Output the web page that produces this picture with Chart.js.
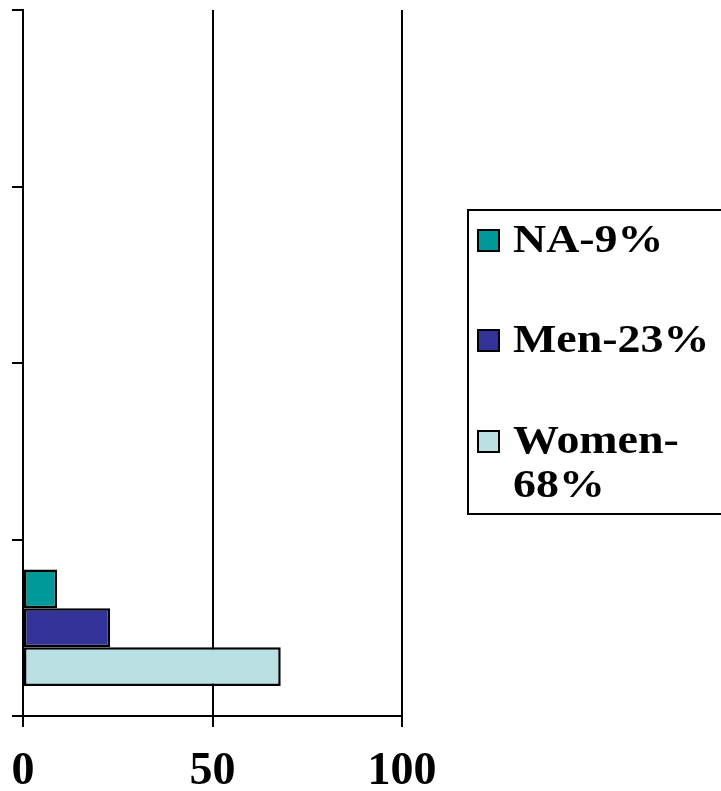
<!DOCTYPE html>
<html>
<head>
<meta charset="utf-8">
<script src="https://cdn.jsdelivr.net/npm/chart.js@4.4.1/dist/chart.umd.min.js"></script>
<style>
  html, body { margin: 0; padding: 0; background: #fff; }
  #wrap { width: 721px; height: 791px; }
</style>
</head>
<body>
<div id="wrap"><canvas id="grafico" width="721" height="791"></canvas></div>
<script>
// dados do gráfico
const categorias = ['1', '2', '3', '4'];
const rotulos = ['NA-9%', 'Men-23%', 'Women-68%'];
const valoresNA = [9, null, null, null];
const valoresMen = [23, null, null, null];
const valoresWomen = [68, null, null, null];
const ticksX = [0, 50, 100];
const cores = ['#009999', '#333399', '#BBE0E3'];

const FONTE = '"Liberation Serif"';

// legenda desenhada à mão (com moldura e quebra de linha como no original)
const legendaCaixa = {
    id: 'legendaCaixa',
    afterDraw(chart) {
        const ctx = chart.ctx;
        ctx.save();
        ctx.strokeStyle = '#000';
        ctx.lineWidth = 2;
        ctx.strokeRect(468, 210, 260, 304);

        const baselines = [252, 352, 453];
        chart.data.datasets.forEach((ds, i) => {
            const y = baselines[i];
            ctx.fillStyle = ds.backgroundColor;
            ctx.fillRect(478, y - 22, 21, 21);
            ctx.lineWidth = 2;
            ctx.strokeRect(478, y - 22, 21, 21);

            // quebra depois do hífen quando não cabe
            let linhas = [ds.label];
            if (ds.label.length > 8) {
                const k = ds.label.indexOf('-') + 1;
                linhas = [ds.label.slice(0, k), ds.label.slice(k)];
            }
            ctx.fillStyle = '#000';
            ctx.font = 'bold 41px ' + FONTE;
            ctx.textBaseline = 'alphabetic';
            linhas.forEach((t, j) => {
                ctx.save();
                ctx.translate(513, y + j * 44);
                ctx.scale(1.12, 1);
                ctx.fillText(t, 0, 0);
                ctx.restore();
            });
        });
        ctx.restore();
    }
};

function desenhar() {
    const ctx = document.getElementById('grafico').getContext('2d');
    new Chart(ctx, {
        type: 'bar',
        data: {
            labels: categorias,
            datasets: [
                { label: rotulos[0], data: valoresNA, backgroundColor: cores[0] },
                { label: rotulos[1], data: valoresMen, backgroundColor: cores[1] },
                { label: rotulos[2], data: valoresWomen, backgroundColor: cores[2] }
            ].map(d => Object.assign(d, {
                borderColor: '#000', borderWidth: 2.5, borderSkipped: false,
                categoryPercentage: 0.66, barPercentage: 1
            }))
        },
        options: {
            indexAxis: 'y',
            responsive: false,
            animation: false,
            layout: { padding: { top: 10, right: 319, left: 0, bottom: 0 } },
            plugins: { legend: { display: false }, tooltip: { enabled: false } },
            scales: {
                x: {
                    min: 0, max: 100,
                    afterBuildTicks: s => { s.ticks = ticksX.map(v => ({ value: v })); },
                    afterFit: s => { s.height = 75; s.paddingLeft = 0; s.paddingRight = 0; },
                    ticks: { color: '#000', padding: 18, font: { family: FONTE, size: 46, weight: 'bold' } },
                    grid: { color: '#000', lineWidth: 2, tickLength: 11 },
                    border: { display: true, color: '#000', width: 2 }
                },
                y: {
                    reverse: true,
                    afterFit: s => { s.width = 23; },
                    ticks: { display: false },
                    grid: { drawOnChartArea: false, color: '#000', lineWidth: 2, tickLength: 11 },
                    border: { display: true, color: '#000', width: 2 }
                }
            }
        },
        plugins: [legendaCaixa]
    });
}

document.fonts.load('bold 46px "Liberation Serif"').then(desenhar, desenhar);
</script>
</body>
</html>
